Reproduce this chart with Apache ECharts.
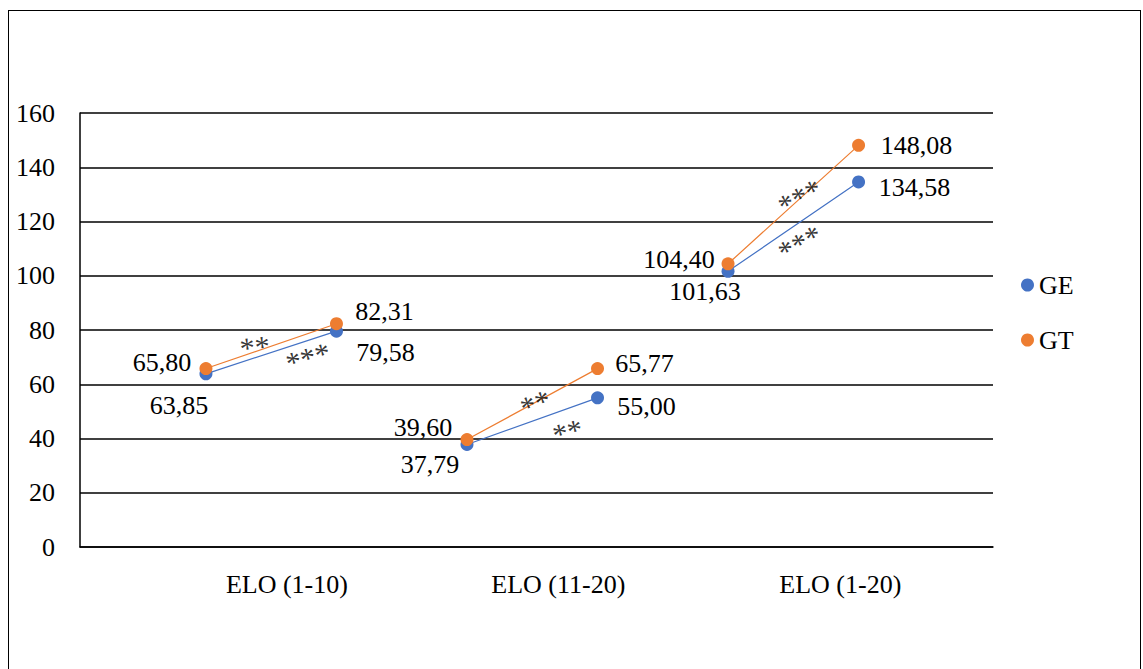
<!DOCTYPE html>
<html>
<head>
<meta charset="utf-8">
<script src="https://cdn.jsdelivr.net/npm/echarts@6/dist/echarts.min.js"></script>
<style>
  html, body { margin: 0; padding: 0; background: #fff; }
  #frame { position: absolute; left: 8px; top: 10px; width: 1133px; height: 700px; border: 1.5px solid #000; box-sizing: border-box; }
  #chart { position: absolute; left: 0; top: 0; width: 1143px; height: 669px; }
</style>
</head>
<body>
<div id="frame"></div>
<div id="chart"></div>
<script>
// ---- data ----
const categories = ['ELO (1-10)', 'ELO (11-20)', 'ELO (1-20)'];
const pointX = [1, 2, 3, 4, 5, 6];               // pre / post positions for each category
const geValues = [63.85, 79.58, 37.79, 55.00, 101.63, 134.58];
const gtValues = [65.80, 82.31, 39.60, 65.77, 104.40, 148.08];
const yTicks = [0, 20, 40, 60, 80, 100, 120, 140, 160];
const sigTexts = ['**', '***', '**', '**', '***', '***'];
const sigX = [1.37, 1.77, 3.51, 3.76, 5.53, 5.53];
const sigY = [75.9, 71.9, 54.9, 44.6, 130.9, 113.9];

// ---- style (positions of texts) ----
const categoryLabelX = [1.62, 3.70, 5.86];
const geLabelOffsets = [[-27, 32], [49, 21], [-37, 20], [49, 9], [-23, 20], [56, 6]];
const gtLabelOffsets = [[-44, -6], [48, -12], [-44, -12], [47, -5], [-49, -4], [58, 0]];
const sigRotate = [6, 16, 20, 14, 28, 28];

const BLUE = '#4472C4', ORANGE = '#ED7D31';
const FONT = '"Liberation Serif", "Times New Roman", serif';
const fmt = v => v.toFixed(2).replace('.', ',');

function pointData(values, offsets) {
  return values.map((v, i) => ({
    value: [pointX[i], v],
    label: { offset: offsets[i] }
  }));
}
function lineData(values) {
  const out = [];
  for (let g = 0; g < categories.length; g++) {
    out.push([pointX[2 * g], values[2 * g]]);
    out.push([pointX[2 * g + 1], values[2 * g + 1]]);
    if (g < categories.length - 1) out.push([pointX[2 * g + 1] + 0.5, '-']);
  }
  return out;
}

const chart = echarts.init(document.getElementById('chart'), null, { renderer: 'svg' });
const labelStyle = {
  show: true, position: 'inside', color: '#000', fontFamily: FONT, fontSize: 26,
  formatter: p => fmt(p.value[1])
};
chart.setOption({
  animation: false,
  textStyle: { fontFamily: FONT },
  grid: { left: 80, right: 150, top: 113, bottom: 122 },
  legend: {
    data: ['GE', 'GT'], orient: 'vertical', left: 1016, top: 267,
    icon: 'circle', itemWidth: 13, itemHeight: 13, itemGap: 29,
    textStyle: { fontFamily: FONT, fontSize: 26, color: '#000' }
  },
  xAxis: {
    type: 'value', min: 0.035, max: 7.03,
    splitLine: { show: false },
    axisTick: { show: false },
    axisLine: { show: true, lineStyle: { color: '#000', width: 1.5 } },
    axisLabel: {
      customValues: categoryLabelX, margin: 24, color: '#000', fontFamily: FONT, fontSize: 26,
      formatter: v => {
        let best = 0;
        categoryLabelX.forEach((c, i) => { if (Math.abs(c - v) < Math.abs(categoryLabelX[best] - v)) best = i; });
        return categories[best];
      }
    }
  },
  yAxis: {
    type: 'value', min: yTicks[0], max: yTicks[yTicks.length - 1], interval: yTicks[1] - yTicks[0],
    axisLine: { show: true, lineStyle: { color: '#000', width: 1.5 } },
    axisTick: { show: false },
    splitLine: { show: true, lineStyle: { color: '#000', width: 1.5 } },
    axisLabel: { margin: 25, color: '#000', fontFamily: FONT, fontSize: 26 }
  },
  series: [
    { name: 'GE-line', type: 'line', data: lineData(geValues), symbol: 'none', connectNulls: false,
      lineStyle: { color: BLUE, width: 1.2 }, silent: true, z: 2 },
    { name: 'GT-line', type: 'line', data: lineData(gtValues), symbol: 'none', connectNulls: false,
      lineStyle: { color: ORANGE, width: 1.2 }, silent: true, z: 2 },
    { name: 'GE', type: 'scatter', data: pointData(geValues, geLabelOffsets), symbolSize: 13,
      itemStyle: { color: BLUE, opacity: 1 }, label: labelStyle, z: 3 },
    { name: 'GT', type: 'scatter', data: pointData(gtValues, gtLabelOffsets), symbolSize: 13,
      itemStyle: { color: ORANGE, opacity: 1 }, label: labelStyle, z: 4 },
    { name: 'sig', type: 'scatter', symbolSize: 0, silent: true, z: 5,
      data: sigTexts.map((t, i) => ({
        value: [sigX[i], sigY[i]],
        label: { show: true, position: 'inside', formatter: t, rotate: sigRotate[i], offset: [0, 6],
                 color: '#000', fontFamily: FONT, fontSize: 30 }
      }))
    }
  ]
});
</script>
</body>
</html>
